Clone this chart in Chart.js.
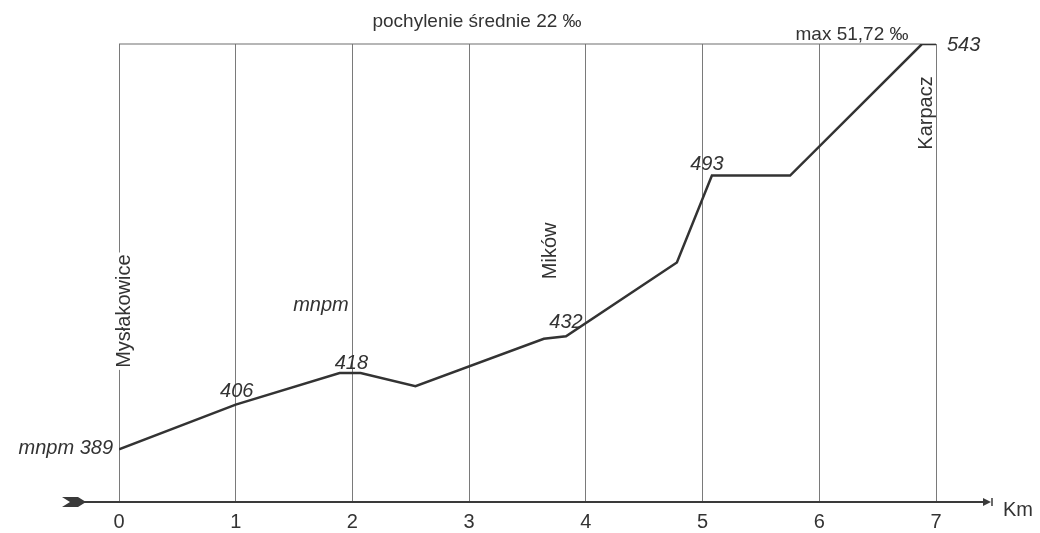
<!DOCTYPE html>
<html>
<head>
<meta charset="utf-8">
<script src="https://cdn.jsdelivr.net/npm/chart.js@4/dist/chart.umd.min.js"></script>
<style>
  html, body { margin: 0; padding: 0; background: #fff; }
  #wrap { width: 1040px; height: 533px; position: relative; }
</style>
</head>
<body>
<div id="wrap"><canvas id="profile"></canvas></div>
<script>
// distance along the route (km) and height above sea level (m n.p.m.)
const kmTicks = [0, 1, 2, 3, 4, 5, 6, 7];
const profileKm = [0, 1, 1.89, 2.07, 2.54, 3.64, 3.83, 4.78, 5.08, 5.75, 6.88, 7];
const profileElev = [389, 406, 418, 418, 413, 431, 432, 460, 493, 493, 543, 543];

// spot heights written on the line
const spotText = ['389', '406', '418', '432', '493', '543'];
const spotKm = [0, 1, 2, 3.83, 5.08, 7];
const spotElev = [389, 406, 418, 432, 493, 543];

// place names (vertical text)
const placeNames = ['Mysłakowice', 'Mików', 'Karpacz'];
const placeKm = [0.05, 3.7, 6.915];
const placeElev = [441.5, 464.4, 516.8];

const titleText = 'pochylenie średnie 22 ‰';
const maxText = 'max 51,72 ‰';
const unitText = 'mnpm';
const axisUnit = 'Km';

const FONT = "'Liberation Sans', Arial, sans-serif";
const INK = '#333333';

Chart.defaults.font.family = FONT;
Chart.defaults.color = INK;

// extra drawing: top rule, arrowed axis, labels
const profileDecor = {
    id: 'profileDecor',
    beforeDatasetsDraw(chart) {
        const { ctx, chartArea: a } = chart;
        ctx.save();
        ctx.strokeStyle = '#6f6f6f';
        ctx.lineWidth = 1.2;
        ctx.beginPath();
        ctx.moveTo(a.left, a.top);
        ctx.lineTo(a.right, a.top);
        ctx.stroke();
        ctx.restore();
    },
    afterDraw(chart) {
        const { ctx, chartArea: a, scales } = chart;
        const xs = scales.x, ys = scales.y;
        const base = a.bottom;

        ctx.save();
        // axis with arrow tail and head
        ctx.strokeStyle = '#3a3a3a';
        ctx.fillStyle = '#3a3a3a';
        ctx.lineWidth = 2;
        ctx.beginPath();
        ctx.moveTo(70, base);
        ctx.lineTo(984, base);
        ctx.stroke();
        ctx.beginPath();
        ctx.moveTo(62, base - 5);
        ctx.lineTo(78, base - 5);
        ctx.lineTo(86, base);
        ctx.lineTo(78, base + 5);
        ctx.lineTo(62, base + 5);
        ctx.lineTo(70, base);
        ctx.closePath();
        ctx.fill();
        ctx.beginPath();
        ctx.moveTo(983, base - 4);
        ctx.lineTo(991, base);
        ctx.lineTo(983, base + 4);
        ctx.closePath();
        ctx.fill();
        ctx.lineWidth = 1.5;
        ctx.beginPath();
        ctx.moveTo(992, base - 4);
        ctx.lineTo(992, base + 4);
        ctx.stroke();

        ctx.fillStyle = INK;
        ctx.textBaseline = 'middle';
        ctx.font = '20px ' + FONT;
        ctx.textAlign = 'left';
        ctx.fillText(axisUnit, 1003, base + 8);

        // title texts
        ctx.font = '19px ' + FONT;
        ctx.textAlign = 'center';
        ctx.fillText(titleText, 477, 22);
        ctx.fillText(maxText, 852, 35);

        // spot heights
        ctx.font = 'italic 20px ' + FONT;
        const offs = [[-6, -1, 'right'], [1, -13, 'center'], [-1, -10, 'center'],
                      [0, -14, 'center'], [-5, -11, 'center'], [11, 1, 'left']];
        spotText.forEach((t, i) => {
            const px = xs.getPixelForValue(spotKm[i]);
            const py = ys.getPixelForValue(spotElev[i]);
            const [dx, dy, al] = offs[i];
            ctx.textAlign = al;
            ctx.fillText(i === 0 ? unitText + ' ' + t : t, px + dx, py + dy);
        });
        ctx.textAlign = 'center';
        ctx.fillText(unitText, xs.getPixelForValue(1.73), ys.getPixelForValue(443.8));

        // vertical place names
        ctx.font = '20px ' + FONT;
        placeNames.forEach((n, i) => {
            const px = xs.getPixelForValue(placeKm[i]);
            const py = ys.getPixelForValue(placeElev[i]);
            ctx.save();
            ctx.translate(px, py);
            ctx.rotate(-Math.PI / 2);
            if (i === 0) {
                const w = ctx.measureText(n).width;
                ctx.fillStyle = '#fff';
                ctx.fillRect(-w / 2 - 2, -11, w + 4, 22);
                ctx.fillStyle = INK;
            }
            ctx.textAlign = 'center';
            ctx.textBaseline = 'middle';
            ctx.fillText(n, 0, 0);
            ctx.restore();
        });
        ctx.restore();
    }
};

new Chart(document.getElementById('profile'), {
    type: 'line',
    data: {
        datasets: [{
            label: 'profil',
            data: profileKm.map((k, i) => ({ x: k, y: profileElev[i] })),
            borderColor: '#333333',
            borderWidth: 2.5,
            pointRadius: 0,
            tension: 0,
            fill: false
        }]
    },
    options: {
        responsive: true,
        maintainAspectRatio: false,
        animation: false,
        layout: { padding: { left: 119, right: 104, top: 44, bottom: 1 } },
        plugins: {
            legend: { display: false },
            tooltip: { enabled: false }
        },
        scales: {
            x: {
                type: 'linear',
                min: kmTicks[0],
                max: kmTicks[kmTicks.length - 1],
                afterBuildTicks: (s) => { s.ticks = kmTicks.map(v => ({ value: v })); },
                afterFit: (s) => { s.height = 30; },
                grid: { color: '#7a7a7a', lineWidth: 1, drawTicks: false },
                border: { display: false },
                ticks: { font: { size: 20 }, color: INK, padding: 8, maxRotation: 0 }
            },
            y: {
                display: false,
                min: 369,
                max: 543
            }
        }
    },
    plugins: [profileDecor]
});
</script>
</body>
</html>
